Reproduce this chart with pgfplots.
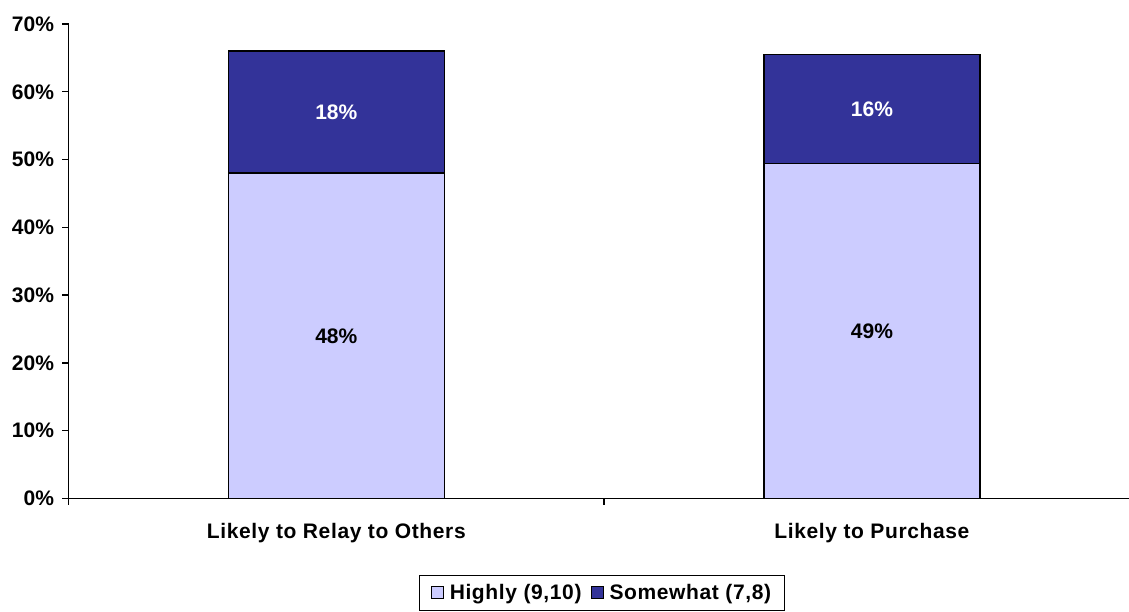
\documentclass[border=0pt]{standalone}
\usepackage{fontspec}
\setmainfont{Liberation Sans}
\newfontfamily\spaced[LetterSpace=3]{Liberation Sans}
\usepackage{pgfplots}
\usepackage{pgfplotstable}
\pgfplotsset{compat=1.18}

\definecolor{highly}{HTML}{CCCCFF}
\definecolor{somewhat}{HTML}{333399}
\newcommand{\chartfont}{\fontsize{21bp}{25bp}\selectfont\bfseries}
\newcommand{\catfont}{\spaced\fontsize{21bp}{25bp}\selectfont\bfseries}

% share of respondents (%) by likelihood level
\pgfplotstableread{
pos high some
0   48   18
1   49.4 16.1
}\likelihood

\begin{document}
\begin{tikzpicture}
\useasboundingbox (0,0) rectangle (1129bp,612bp);
\begin{axis}[
  at={(68.5bp,113.5bp)}, anchor=south west,
  scale only axis,
  width=1060.5bp, height=474.5bp,
  ybar stacked,
  bar width=216bp,
  xmin=-0.5, xmax=1.48,
  ymin=0, ymax=70,
  axis x line*=bottom, axis y line*=left,
  axis line style={line width=1.5bp, black, -},
  tick align=outside,
  major tick length=6bp,
  tick style={line width=1.3bp, black},
  /pgf/number format/assume math mode=true,
  tick label style={font=\chartfont, black},
  ytick={0,10,...,70},
  yticklabel={\pgfmathprintnumber{\tick}\%},
  yticklabel style={xshift=-5bp},
  xtick={-0.5,0.5},
  xticklabels={},
  extra x ticks={0,1},
  extra x tick labels={Likely to Relay to Others, Likely to Purchase},
  extra x tick style={major tick length=0pt, tick label style={font=\catfont, yshift=-21bp}},
  legend style={at={(0.503,-0.161)}, anchor=north, legend columns=2,
    draw=black, line width=1.2bp, font=\catfont,
    inner xsep=11bp, inner ysep=7bp,
    /tikz/every odd column/.append style={column sep=4bp},
    /tikz/every even column/.append style={column sep=7bp}},
  legend image code/.code={\draw[#1, line width=1bp, draw=black] (0bp,-6bp) rectangle (12bp,6bp);},
  point meta=explicit,
  nodes near coords={\pgfmathprintnumber[fixed,precision=0]{\pgfplotspointmeta}\%},
  % value labels centred inside each stacked segment
  every node near coord/.append style={font=\chartfont, anchor=center},
]
\addplot[fill=highly, draw=black, line width=1.3bp,
  nodes near coords style={black}]
  table[x=pos, y=high, meta=high] {\likelihood};
\addlegendentry{Highly (9,10)}
\addplot[fill=somewhat, draw=black, line width=1.3bp,
  nodes near coords style={white}]
  table[x=pos, y=some, meta=some] {\likelihood};
\addlegendentry{Somewhat (7,8)}
\end{axis}
\end{tikzpicture}
\end{document}
